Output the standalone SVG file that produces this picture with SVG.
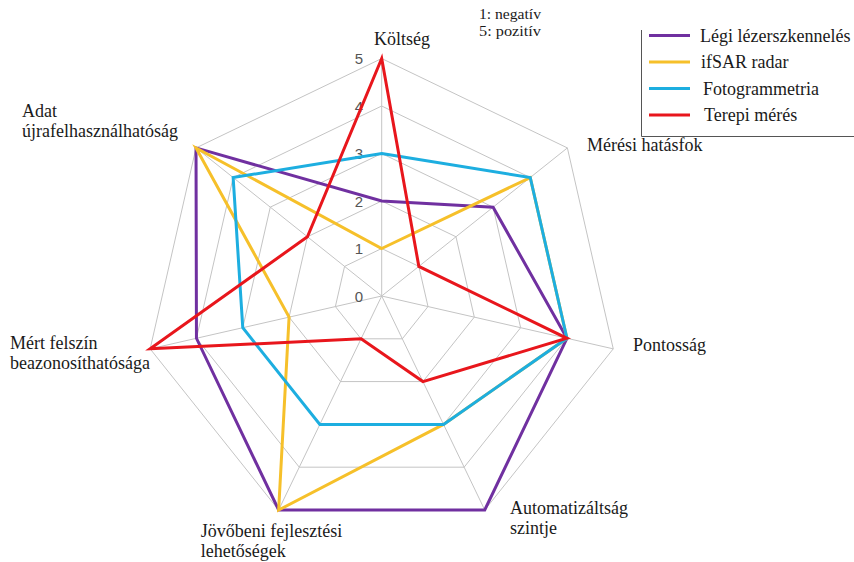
<svg xmlns="http://www.w3.org/2000/svg" width="854" height="562" viewBox="0 0 854 562">
<style>
.grid{fill:none;stroke:#c4c4c4;stroke-width:1}
.ser{fill:none;stroke-width:3;stroke-linejoin:miter}
.lbl{font-family:"Liberation Serif","Times New Roman",serif;font-size:18px;fill:#1a1a1a}
.num{font-family:"Liberation Sans",Arial,sans-serif;font-size:15px;fill:#555;text-anchor:end}
.note{font-family:"Liberation Serif","Times New Roman",serif;font-size:14px;fill:#1a1a1a}
.p{stroke:#7030a0}.y{stroke:#f6c02a}.c{stroke:#1daee0}.r{stroke:#e8161c}
</style>
<rect width="854" height="562" fill="#fff"/>
<g id="grid">
<polygon class="grid" points="381.7,248.5 418.84,266.38 428.01,306.57 402.31,338.8 361.09,338.8 335.39,306.57 344.56,266.38"/>
<polygon class="grid" points="381.7,201 455.97,236.77 474.32,317.14 422.92,381.59 340.48,381.59 289.08,317.14 307.43,236.77"/>
<polygon class="grid" points="381.7,153.5 493.11,207.15 520.63,327.71 443.53,424.39 319.87,424.39 242.77,327.71 270.29,207.15"/>
<polygon class="grid" points="381.7,106 530.25,177.54 566.94,338.28 464.14,467.18 299.26,467.18 196.46,338.28 233.15,177.54"/>
<polygon class="grid" points="381.7,58.5 567.38,147.92 613.25,348.85 484.75,509.98 278.65,509.98 150.15,348.85 196.02,147.92"/>
<path class="grid" d="M381.7,296V58.5M381.7,296L567.38,147.92M381.7,296L613.25,348.85M381.7,296L484.75,509.98M381.7,296L278.65,509.98M381.7,296L150.15,348.85M381.7,296L196.02,147.92"/>
</g>
<g id="scale">
<text class="num" x="363" y="64">5</text>
<text class="num" x="363" y="111.5">4</text>
<text class="num" x="363" y="159">3</text>
<text class="num" x="363" y="206.5">2</text>
<text class="num" x="363" y="254">1</text>
<text class="num" x="363" y="301.5">0</text>
</g>
<g id="connectors">
<polygon id="s-legi" class="ser p" points="381.7,201 493.11,207.15 566.94,338.28 484.75,509.98 278.65,509.98 196.46,338.28 196.02,147.92"/>
<polygon id="s-ifsar" class="ser y" points="381.7,248.5 530.25,177.54 566.94,338.28 443.53,424.39 278.65,509.98 289.08,317.14 196.02,147.92"/>
<polygon id="s-foto" class="ser c" points="381.7,153.5 530.25,177.54 566.94,338.28 443.53,424.39 319.87,424.39 242.77,327.71 233.15,177.54"/>
<polygon id="s-terepi" class="ser r" points="381.7,58.5 418.84,266.38 566.94,338.28 422.92,381.59 361.09,338.8 150.15,348.85 307.43,236.77"/>
</g>
<g id="ax-koltseg"><text class="lbl" x="374" y="45">Költség</text></g>
<g id="ax-meresi"><text class="lbl" x="587" y="151">Mérési hatásfok</text></g>
<g id="ax-pontossag"><text class="lbl" x="633" y="351">Pontosság</text></g>
<g id="ax-automat"><text class="lbl" x="510" y="514">Automatizáltság</text><text class="lbl" x="510" y="533.5">szintje</text></g>
<g id="ax-jovobeni"><text class="lbl" x="200.7" y="537">Jövőbeni fejlesztési</text><text class="lbl" x="200.7" y="556.5">lehetőségek</text></g>
<g id="ax-mert"><text class="lbl" x="10" y="349">Mért felszín</text><text class="lbl" x="10" y="368.5">beazonosíthatósága</text></g>
<g id="ax-adat"><text class="lbl" x="22" y="117">Adat</text><text class="lbl" x="22" y="137">újrafelhasználhatóság</text></g>
<g id="note">
<text class="note" x="479" y="19" textLength="62" lengthAdjust="spacingAndGlyphs">1: negatív</text>
<text class="note" x="479" y="36" textLength="62" lengthAdjust="spacingAndGlyphs">5: pozitív</text>
</g>
<g id="legend">
<path d="M641.5,30V136.5H854" fill="none" stroke="#555" stroke-width="1"/>
<line class="ser p" x1="649" y1="35.5" x2="690" y2="35.5"/>
<line class="ser y" x1="649" y1="62" x2="690" y2="62"/>
<line class="ser c" x1="649" y1="88.5" x2="690" y2="88.5"/>
<line class="ser r" x1="649" y1="115" x2="690" y2="115"/>
<text class="lbl" x="700" y="41.5">Légi lézerszkennelés</text>
<text class="lbl" x="701" y="68">ifSAR radar</text>
<text class="lbl" x="703" y="94.5">Fotogrammetria</text>
<text class="lbl" x="704" y="121">Terepi mérés</text>
</g>
</svg>
